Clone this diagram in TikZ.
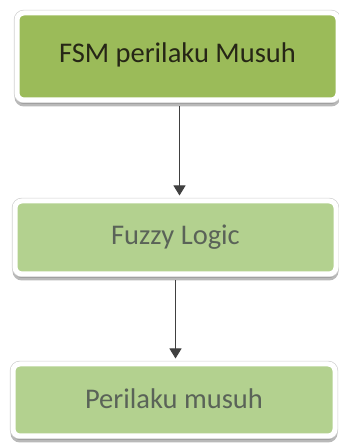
\documentclass[tikz,border=0pt]{standalone}
\usepackage{fontspec}
\setmainfont{Carlito}
\usetikzlibrary{arrows.meta,shadows}
\definecolor{olivebox}{HTML}{9BBB59}
\definecolor{palebox}{HTML}{B3D18F}
\definecolor{darktext}{HTML}{262616}
\definecolor{greytext}{HTML}{5A6358}
\definecolor{arrowgrey}{HTML}{404040}
\tikzset{
  stagebox/.style={rounded corners=7pt, inner sep=0pt,
    drop shadow={shadow xshift=0pt, shadow yshift=-4pt, fill=black!50, draw=black!50,
      line width=5pt, opacity=0.55},
    preaction={draw=black!18, line width=6.4pt},
    draw=white, line width=5pt,
    font=\fontsize{28.5}{30}\selectfont},
  farrow/.style={-{Triangle[length=10pt,width=12pt]}, line width=1pt, draw=arrowgrey, fill=arrowgrey}
}

\begin{document}
\begin{tikzpicture}[x=1pt, y=1pt]
    \useasboundingbox[fill=white] (0,0) rectangle (339,444);
    \node[stagebox, fill=olivebox, text=darktext, minimum width=321pt, minimum height=87pt]
      (fsm) at (177.5,387.5) {\raisebox{7.5pt}{FSM perilaku Musuh}};
    \node[stagebox, fill=palebox, text=greytext, minimum width=321pt, minimum height=73pt]
      (fuzzy) at (175.5,206.5) {Fuzzy Logic};
    \node[stagebox, fill=palebox, text=greytext, minimum width=322pt, minimum height=72pt]
      (musuh) at (174,44) {\raisebox{3pt}{Perilaku musuh}};
    \draw[farrow] ([xshift=2pt,yshift=-4pt]fsm.south) -- ([xshift=2pt,yshift=3pt]fsm.south |- fuzzy.north);
    \draw[farrow] ([yshift=-4pt]fuzzy.south) -- ([yshift=3pt]fuzzy.south |- musuh.north);
\end{tikzpicture}
\end{document}
